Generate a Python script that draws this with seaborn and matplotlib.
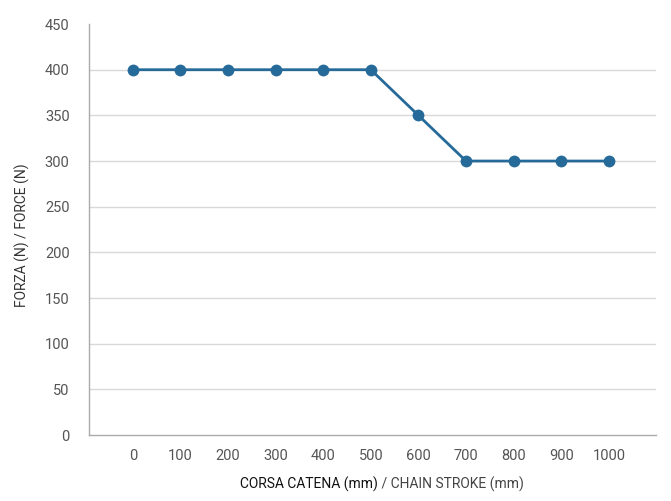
import matplotlib.pyplot as plt
import seaborn as sns
import pandas as pd

# Data
stroke_mm = [0, 100, 200, 300, 400, 500, 600, 700, 800, 900, 1000]
force_n = [400, 400, 400, 400, 400, 400, 350, 300, 300, 300, 300]
y_ticks = [0, 50, 100, 150, 200, 250, 300, 350, 400, 450]

df = pd.DataFrame({'stroke': stroke_mm, 'force': force_n})

sns.set_theme(style='white')
plt.rcParams['font.family'] = ['Roboto', 'DejaVu Sans']

line_color = '#266a99'
tick_color = '#555555'

fig = plt.figure(figsize=(6.71, 5.01), dpi=100)
ax = fig.add_axes([0.1326, 0.1317, 0.845, 0.8203])

sns.lineplot(data=df, x='stroke', y='force', ax=ax, color=line_color,
             linewidth=2, marker='o', markersize=8.5, markeredgewidth=0)

ax.set_xlim(-92, 1099)
ax.set_ylim(0, 450)
ax.set_xticks(stroke_mm)
ax.set_yticks(y_ticks)
ax.set_xticklabels([str(v) for v in stroke_mm])

# horizontal grid lines (none at the top)
for v in y_ticks[1:-1]:
    ax.axhline(v, color='#d9d9d9', linewidth=1, zorder=0)

for side in ['top', 'right']:
    ax.spines[side].set_visible(False)
for side in ['left', 'bottom']:
    ax.spines[side].set_color('#aaaaaa')
    ax.spines[side].set_linewidth(1)

ax.tick_params(axis='both', length=0, labelsize=10.5, labelcolor=tick_color)
ax.tick_params(axis='y', pad=14)
ax.tick_params(axis='x', pad=10)

ax.set_xlabel('')
ax.set_ylabel('')

# axis titles: Italian part darker, English part lighter
t1 = fig.text(0.358, 0.018, 'CORSA CATENA (mm)', fontsize=10, color='#111111',
              ha='left', va='bottom')
fig.canvas.draw()
ax.annotate(' / CHAIN STROKE (mm)', xycoords=t1, xy=(1, 0), va='bottom',
            fontsize=10, color='#444444')

fig.text(0.022, 0.53, 'FORZA (N) / FORCE (N)', fontsize=10, color='#333333',
         rotation=90, ha='left', va='center')

plt.savefig('out.png', dpi=100)
